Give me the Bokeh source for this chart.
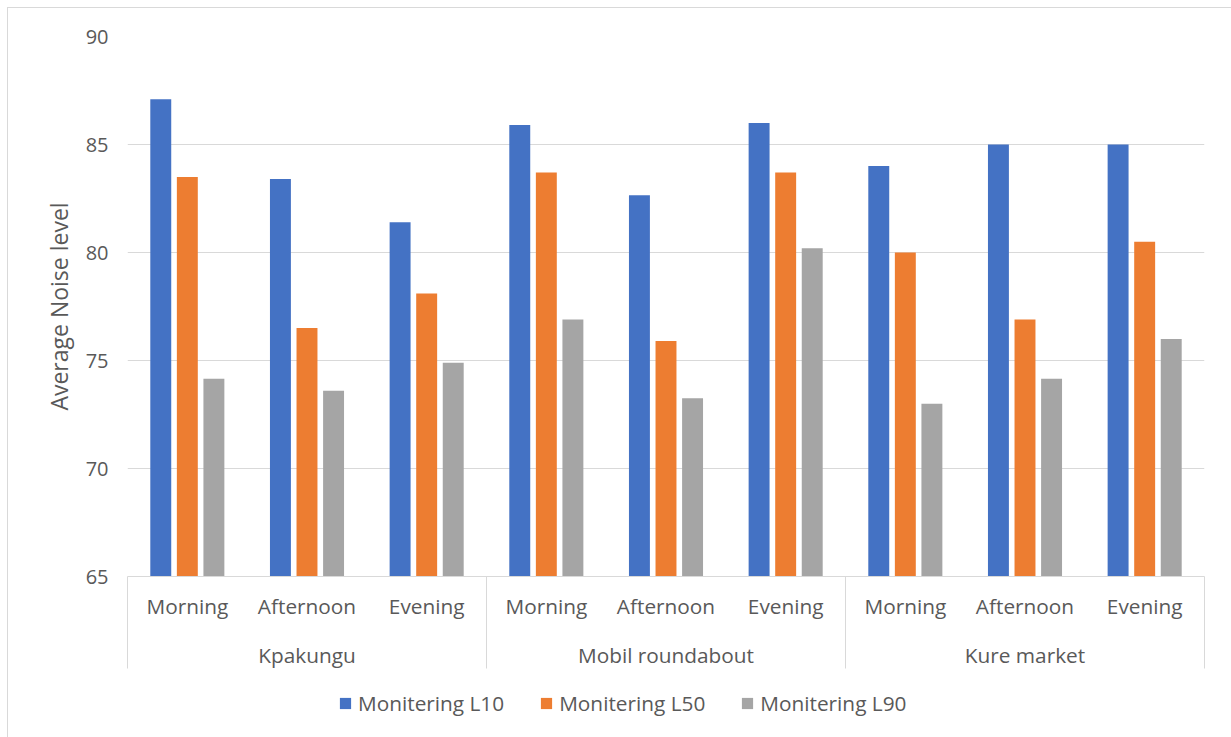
from bokeh.plotting import figure
from bokeh.layouts import column
from bokeh.models import Range1d, LinearAxis, FixedTicker, Legend, LegendItem
from bokeh.embed import file_html
from bokeh.resources import INLINE

# ---- data -------------------------------------------------------------
sites = ["Kpakungu", "Mobil roundabout", "Kure market"]
periods = ["Morning", "Afternoon", "Evening"]
series_names = ["Monitering L10", "Monitering L50", "Monitering L90"]

l10 = [87.1, 83.4, 81.4, 85.9, 82.65, 86.0, 84.0, 85.0, 85.0]
l50 = [83.5, 76.5, 78.1, 83.7, 75.9, 83.7, 80.0, 76.9, 80.5]
l90 = [74.15, 73.6, 74.9, 76.9, 73.25, 80.2, 73.0, 74.15, 76.0]

y_ticks = [65, 70, 75, 80, 85, 90]

# ---- styling ----------------------------------------------------------
FONT = "Open Sans"
TEXT = "#595959"
RULE = "#d9d9d9"
LABEL_SIZE = "20.8px"
colors = ["#4472C4", "#ED7D31", "#A5A5A5"]
offsets = [-0.222, 0.0, 0.222]
bar_width = 0.175

n_sites, n_periods = len(sites), len(periods)
n_cats = n_sites * n_periods
cat_centers = [i + 0.5 for i in range(n_cats)]
series = [l10, l50, l90]

p = figure(
    width=1223, height=670,
    x_range=Range1d(0, n_cats), y_range=Range1d(y_ticks[0], y_ticks[-1]),
    output_backend="svg", toolbar_location=None, x_axis_location=None,
    min_border_left=119, min_border_right=27, min_border_top=28, min_border_bottom=102,
)
p.outline_line_color = None
p.background_fill_color = "white"
p.border_fill_color = "white"

# value axis
ya = p.yaxis[0]
ya.ticker = FixedTicker(ticks=y_ticks)
ya.axis_line_color = None
ya.major_tick_line_color = None
ya.minor_tick_line_color = None
ya.major_tick_out = 0
ya.major_label_standoff = 19
ya.major_label_text_font = FONT
ya.major_label_text_font_size = "20px"
ya.major_label_text_color = TEXT
ya.axis_label = "Average Noise level"
ya.axis_label_text_font = FONT
ya.axis_label_text_font_size = "23px"
ya.axis_label_text_font_style = "normal"
ya.axis_label_text_color = TEXT
ya.axis_label_standoff = 8

# horizontal gridlines only
for g in p.grid:
    if g.dimension == 0:
        g.visible = False
p.ygrid.ticker = FixedTicker(ticks=y_ticks)
p.ygrid.grid_line_color = RULE
p.ygrid.grid_line_width = 1

# bars
for values, off, col in zip(series, offsets, colors):
    p.vbar(x=[c + off for c in cat_centers], top=values, bottom=y_ticks[0],
           width=bar_width, fill_color=col, line_color=None)

# period labels + group separator lines (minor ticks hanging below the axis)
period_axis = LinearAxis(
    ticker=FixedTicker(ticks=cat_centers,
                       minor_ticks=[k * n_periods for k in range(n_sites + 1)]),
    major_label_overrides={c: periods[i % n_periods] for i, c in enumerate(cat_centers)},
)
period_axis.axis_line_color = RULE
period_axis.axis_line_width = 1
period_axis.major_tick_line_color = None
period_axis.major_tick_out = 0
period_axis.major_tick_in = 0
period_axis.minor_tick_line_color = RULE
period_axis.minor_tick_line_width = 1
period_axis.minor_tick_out = 92
period_axis.minor_tick_in = 0
period_axis.major_label_standoff = -77
period_axis.major_label_text_font = FONT
period_axis.major_label_text_font_size = LABEL_SIZE
period_axis.major_label_text_color = TEXT
p.add_layout(period_axis, "below")

# site labels
site_centers = [k * n_periods + n_periods / 2 for k in range(n_sites)]
site_axis = LinearAxis(
    ticker=FixedTicker(ticks=site_centers, minor_ticks=[]),
    major_label_overrides={c: s for c, s in zip(site_centers, sites)},
)
site_axis.axis_line_color = None
site_axis.major_tick_line_color = None
site_axis.minor_tick_line_color = None
site_axis.major_tick_out = 0
site_axis.major_tick_in = 0
site_axis.major_label_standoff = 18
site_axis.major_label_text_font = FONT
site_axis.major_label_text_font_size = LABEL_SIZE
site_axis.major_label_text_color = TEXT
p.add_layout(site_axis, "below")

# legend strip underneath the chart; its series renderers stay hidden and
# only lend their fill colours to the legend swatches
key = figure(
    width=1223, height=59, x_range=Range1d(0, n_cats), y_range=Range1d(y_ticks[0], y_ticks[-1]),
    output_backend="svg", toolbar_location=None,
    x_axis_location=None, y_axis_location=None, min_border=0,
)
key.outline_line_color = None
for g in key.grid:
    g.visible = False
key_renderers = []
for values, off, col in zip(series, offsets, colors):
    r = key.vbar(x=[c + off for c in cat_centers], top=values, bottom=y_ticks[0],
                 width=bar_width, fill_color=col, line_color=None)
    r.visible = False
    key_renderers.append(r)

legend = Legend(
    items=[LegendItem(label=n, renderers=[r]) for n, r in zip(series_names, key_renderers)],
    orientation="horizontal", location=(211, 20),
    glyph_width=14, glyph_height=14, label_standoff=6, spacing=35,
    padding=0, margin=0, border_line_color=None, background_fill_alpha=0,
    inactive_fill_alpha=0,
    label_text_font=FONT, label_text_font_size=LABEL_SIZE, label_text_color=TEXT,
)
key.add_layout(legend, "center")

layout = column(p, key, margin=(7, 0, 0, 7), spacing=0,
                styles={"border-top": f"1px solid {RULE}", "border-left": f"1px solid {RULE}"})

open("out.html", "w").write(file_html(layout, INLINE))
